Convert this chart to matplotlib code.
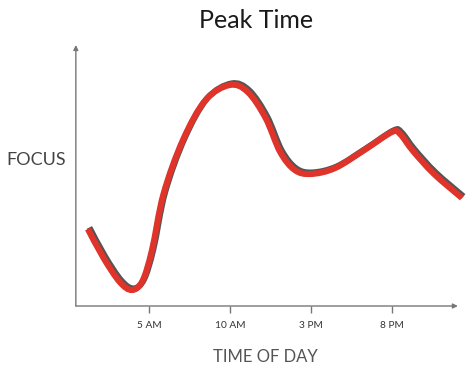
import matplotlib
matplotlib.use('Agg')
import matplotlib.pyplot as plt
import matplotlib.transforms as mtransforms
from matplotlib.path import Path
from matplotlib.patches import PathPatch

# values (hour of day, focus level)
hours = [1.23, 2.2, 3.2, 3.95, 4.6, 5.19, 5.9, 7.1, 8.5, 10.0, 11.1,
         12.2, 13.1, 14.0, 15.0, 16.5, 18.3, 20.0, 20.5, 21.3, 22.6, 24.32]
focus = [77, 48, 24, 16, 25, 56, 112, 166, 206, 221, 214,
         188, 154, 136, 132, 138, 156, 174, 172, 155, 132, 108]

tick_pos = [5, 10, 15, 20]
tick_labels = ['5 AM', '10 AM', '3 PM', '8 PM']

plt.rcParams['font.family'] = ['Lato', 'DejaVu Sans']


def smooth_path(xs, ys):
    # catmull-rom through the points, written as cubic bezier segments
    pts = list(zip(xs, ys))
    verts = [pts[0]]
    codes = [Path.MOVETO]
    n = len(pts)
    for i in range(n - 1):
        p0 = pts[max(i - 1, 0)]
        p1 = pts[i]
        p2 = pts[i + 1]
        p3 = pts[min(i + 2, n - 1)]
        c1 = (p1[0] + (p2[0] - p0[0]) / 6, p1[1] + (p2[1] - p0[1]) / 6)
        c2 = (p2[0] - (p3[0] - p1[0]) / 6, p2[1] - (p3[1] - p1[1]) / 6)
        verts += [c1, c2, p2]
        codes += [Path.CURVE4] * 3
    return Path(verts, codes)


fig = plt.figure(figsize=(4.74, 3.75), dpi=100)
ax = fig.add_axes([0.160, 0.184, 0.806, 0.696])

curve = smooth_path(hours, focus)
shadow_tr = mtransforms.offset_copy(ax.transData, fig=fig, x=1.1, y=1.1, units='points')
ax.add_patch(PathPatch(curve, fill=False, edgecolor='#555555', lw=4.4,
                       capstyle='butt', joinstyle='round', transform=shadow_tr, clip_on=False))
ax.add_patch(PathPatch(curve, fill=False, edgecolor='#e0332a', lw=4.4,
                       capstyle='butt', joinstyle='round', clip_on=False))

ax.set_xlim(0.49, 24.07)
ax.set_ylim(0, 261)

for s in ['top', 'right', 'left', 'bottom']:
    ax.spines[s].set_visible(False)

axis_col = '#777777'
ax.annotate('', xy=(1.0, 0), xytext=(0, 0), xycoords='axes fraction',
            arrowprops=dict(arrowstyle='-|>', color=axis_col, lw=1.0,
                            mutation_scale=7, shrinkA=0, shrinkB=0))
ax.annotate('', xy=(0, 1.0), xytext=(0, 0), xycoords='axes fraction',
            arrowprops=dict(arrowstyle='-|>', color=axis_col, lw=1.0,
                            mutation_scale=7, shrinkA=0, shrinkB=0))

ax.set_xticks(tick_pos)
ax.set_xticklabels(tick_labels, fontsize=7.3, color='#333333')
ax.tick_params(axis='x', length=5, width=1, color=axis_col, pad=6, direction='out')
ax.set_yticks([])

fig.text(0.54, 0.945, 'Peak Time', ha='center', va='center', fontsize=18, color='#1a1a1a')
fig.text(0.077, 0.573, 'FOCUS', ha='center', va='center', fontsize=13, color='#444444')
fig.text(0.56, 0.048, 'TIME OF DAY', ha='center', va='center', fontsize=12, color='#555555')

fig.savefig('out.png', dpi=100)
